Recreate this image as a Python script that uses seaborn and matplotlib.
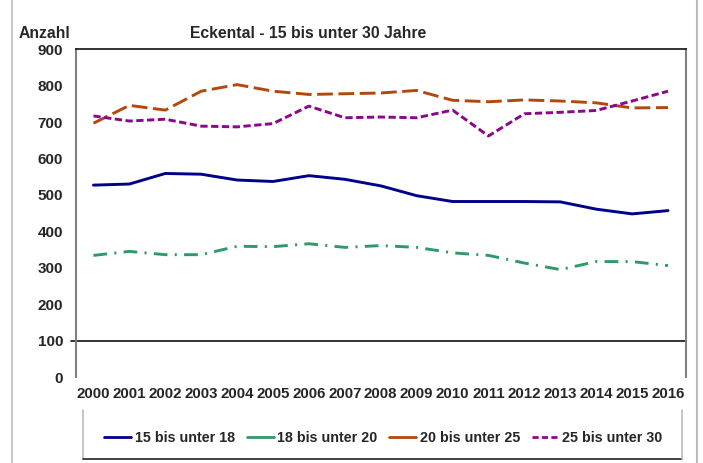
import matplotlib
matplotlib.use("Agg")
import matplotlib.pyplot as plt
from matplotlib.lines import Line2D
import seaborn as sns
import pandas as pd

years = [str(y) for y in range(2000, 2017)]
s15_18 = [527, 530, 559, 557, 541, 537, 553, 543, 525, 498, 482, 482, 482, 481, 461, 448, 457]
s18_20 = [334, 345, 336, 336, 359, 358, 366, 356, 361, 356, 341, 334, 313, 295, 317, 317, 306]
s20_25 = [697, 746, 733, 785, 803, 785, 776, 778, 780, 787, 760, 756, 761, 758, 753, 739, 740]
s25_30 = [717, 703, 708, 689, 687, 696, 744, 712, 714, 712, 733, 662, 723, 727, 732, 758, 785]
series_names = ["15 bis unter 18", "18 bis unter 20", "20 bis unter 25", "25 bis unter 30"]
yticks = [0, 100, 200, 300, 400, 500, 600, 700, 800, 900]

colors = {"15 bis unter 18": "#00008B", "18 bis unter 20": "#2E9A66",
          "20 bis unter 25": "#B4470C", "25 bis unter 30": "#8B068B"}
dashes = {"15 bis unter 18": "", "18 bis unter 20": (4.7, 2.5, 0.7, 2.5),
          "20 bis unter 25": (5.4, 1.9), "25 bis unter 30": (2.5, 1.2)}

rows = []
for name, vals in zip(series_names, [s15_18, s18_20, s20_25, s25_30]):
    for i, v in enumerate(vals):
        rows.append({"idx": i, "year": years[i], "value": v, "series": name})
df = pd.DataFrame(rows)

sns.set_theme(style="white")
plt.rcParams['font.family'] = ['Liberation Sans', 'DejaVu Sans']

fig = plt.figure(figsize=(7.03, 4.63), dpi=100)
ax = fig.add_axes([0.1074, 0.1857, 0.8684, 0.7078])

sns.lineplot(data=df, x="idx", y="value", hue="series", style="series",
             palette=colors, dashes=dashes, linewidth=2.1, legend=False, ax=ax)

ax.set_xlim(-0.5, len(years) - 0.5)
ax.set_ylim(0, 900)
ax.set_yticks(yticks)
ax.set_yticklabels([str(t) for t in yticks], fontsize=11, fontweight="bold")
ax.set_xticks(range(len(years)))
ax.set_xticklabels(years, fontsize=10.8, fontweight="bold")
ax.set_xticks([i - 0.5 for i in range(len(years) + 1)], minor=True)
ax.tick_params(axis="x", which="major", length=0, pad=7)
ax.tick_params(axis="x", which="minor", length=3, color="#999999", width=1, direction="out")
ax.tick_params(axis="y", length=0, pad=9)
ax.set_xlabel("")
ax.set_ylabel("")

for side in ["left", "right"]:
    ax.spines[side].set_color("#808080")
    ax.spines[side].set_linewidth(1.5)
ax.spines["top"].set_color("#111111")
ax.spines["top"].set_linewidth(1.2)
ax.spines["bottom"].set_visible(False)

# category axis crossing at 100
ax.plot([-0.008, 1.0], [100, 100], color="#111111", linewidth=1.2,
        transform=ax.get_yaxis_transform(), clip_on=False)

fig.text(0.027, 0.928, "Anzahl", fontsize=11.3, fontweight="bold", ha="left", va="center")
fig.text(0.438, 0.928, "Eckental - 15 bis unter 30 Jahre", fontsize=11.3,
         fontweight="bold", ha="center", va="center")

handles = [Line2D([], [], color=colors[n], linewidth=2,
                  linestyle=((0, (2.2, 1.2)) if n == "25 bis unter 30" else "-"))
           for n in series_names]
fig.legend(handles, series_names, loc="center", bbox_to_anchor=(0.5455, 0.054),
           ncol=4, frameon=False, handlelength=1.9, handletextpad=0.25,
           columnspacing=0.8, prop={"weight": "bold", "size": 10.3})

# legend box and figure frame
fig.add_artist(Line2D([83 / 703, 83 / 703], [1 - 410 / 463, 1 - 459 / 463],
                      color="#BBBBBB", linewidth=1.2))
fig.add_artist(Line2D([83 / 703, 682 / 703], [1 - 459 / 463, 1 - 459 / 463],
                      color="#222222", linewidth=1.2))
fig.add_artist(Line2D([682 / 703, 682 / 703], [1 - 410 / 463, 1 - 459 / 463],
                      color="#BBBBBB", linewidth=1.2))
fig.add_artist(Line2D([12 / 703, 12 / 703], [0, 1], color="#BBBBBB", linewidth=1.2))
fig.add_artist(Line2D([697 / 703, 697 / 703], [0, 1], color="#BBBBBB", linewidth=1.5))

fig.savefig("out.png", dpi=100)
